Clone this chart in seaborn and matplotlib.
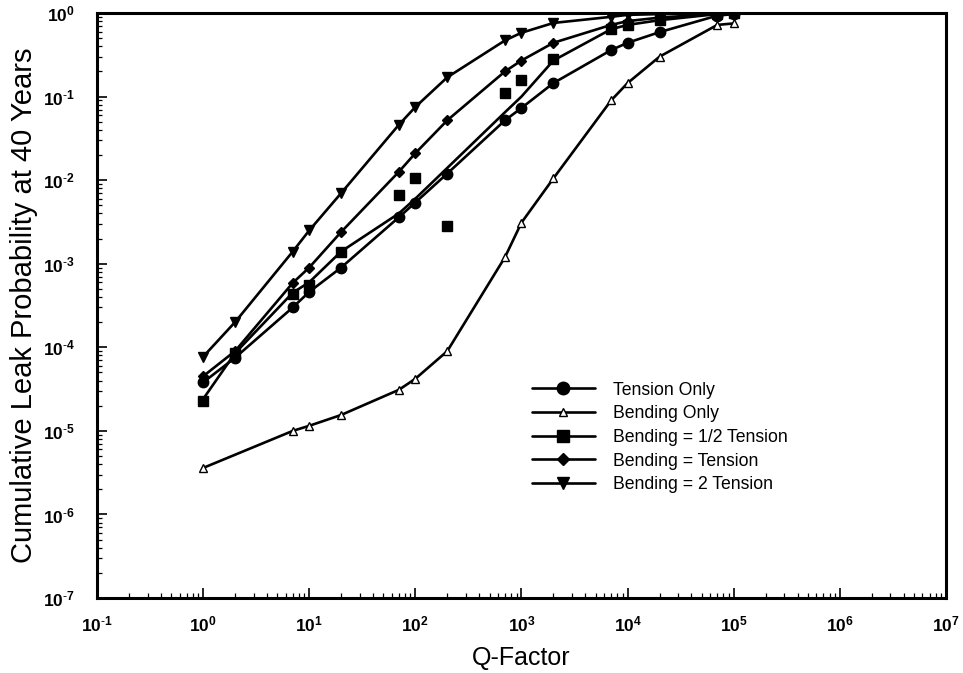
import matplotlib
matplotlib.use("Agg")
import matplotlib.pyplot as plt
from matplotlib.lines import Line2D
import seaborn as sns
import pandas as pd

q_factor = [1, 2, 7, 10, 20, 70, 100, 200, 700, 1000, 2000, 7000, 10000, 20000, 70000, 100000]

tension_only = [3.8e-5, 7.5e-5, 3.0e-4, 4.6e-4, 9.0e-4, 3.6e-3, 5.4e-3, 0.012, 0.052, 0.073,
                0.145, 0.36, 0.44, 0.59, 0.93, 0.97]

bending_only_q = [1, 7, 10, 20, 70, 100, 200, 700, 1000, 2000, 7000, 10000, 20000, 70000, 100000]
bending_only = [3.6e-6, 1.0e-5, 1.15e-5, 1.55e-5, 3.1e-5, 4.2e-5, 9.0e-5, 1.2e-3, 3.1e-3, 0.0105,
                0.09, 0.145, 0.30, 0.72, 0.75]

half_tension_pts = [2.3e-5, 8.5e-5, 4.3e-4, 5.5e-4, 1.4e-3, 6.6e-3, 0.0107, 2.8e-3, 0.11, 0.16,
                    0.28, 0.64, 0.72, 0.82, 0.97, 1.0]
half_tension_fit = [2.4e-5, 8.5e-5, 4.5e-4, 6.0e-4, 1.4e-3, 4.0e-3, 6.0e-3, 0.014, 0.065, 0.10,
                    0.27, 0.64, 0.72, 0.82, 0.97, 1.0]

equal_tension = [4.5e-5, 9.0e-5, 5.9e-4, 9.0e-4, 2.4e-3, 0.0126, 0.021, 0.052, 0.20, 0.27,
                 0.44, 0.72, 0.80, 0.88, 0.98, 1.0]

double_tension = [7.7e-5, 2.0e-4, 1.4e-3, 2.5e-3, 7.0e-3, 0.046, 0.075, 0.17, 0.47, 0.58,
                  0.76, 0.90, 0.95, 0.97, 1.0, 1.0]

labels = ["Tension Only", "Bending Only", "Bending = 1/2 Tension",
          "Bending = Tension", "Bending = 2 Tension"]

x_exponents = list(range(-1, 8))
y_exponents = list(range(-7, 1))

sns.set_theme(style="ticks")
plt.rcParams["font.family"] = ["Liberation Sans", "DejaVu Sans"]
plt.rcParams["mathtext.fontset"] = "custom"
plt.rcParams["mathtext.rm"] = "Liberation Sans"
plt.rcParams["mathtext.it"] = "Liberation Sans"
plt.rcParams["mathtext.bf"] = "Liberation Sans:bold"
plt.rcParams["axes.unicode_minus"] = False
for key in ["text.color", "axes.labelcolor", "xtick.color", "ytick.color", "axes.edgecolor"]:
    plt.rcParams[key] = "black"

fig = plt.figure(figsize=(9.63, 6.73), dpi=100)
ax = fig.add_axes([0.1007, 0.1114, 0.8816, 0.8693])

lw = 1.9
k = "black"

def draw(xs, ys, marker, ms, mfc=k, line_ys=None):
    df = pd.DataFrame({"x": xs, "y": ys if line_ys is None else line_ys})
    sns.lineplot(data=df, x="x", y="y", ax=ax, color=k, linewidth=lw, estimator=None,
                 sort=False, legend=False)
    dm = pd.DataFrame({"x": xs, "y": ys})
    ax.plot(dm["x"], dm["y"], linestyle="none", marker=marker, markersize=ms,
            markerfacecolor=mfc, markeredgecolor=k, markeredgewidth=1.0, zorder=3)

draw(q_factor, tension_only, "o", 7.5)
draw(bending_only_q, bending_only, "^", 5.5, mfc="white")
draw(q_factor, half_tension_pts, "s", 7.5, line_ys=half_tension_fit)
draw(q_factor, equal_tension, "D", 5)
draw(q_factor, double_tension, "v", 6.5)

ax.set_xscale("log")
ax.set_yscale("log")
ax.set_xlim(1e-1, 1e7)
ax.set_ylim(1e-7, 1e0)

def lab(e):
    if e < 0:
        return r"$\mathbf{10^{\text{-}%d}}$" % (-e)
    return r"$\mathbf{10^{%d}}$" % e

ax.set_xticks([10.0**e for e in x_exponents])
ax.set_yticks([10.0**e for e in y_exponents])
ax.set_xticklabels([lab(e) for e in x_exponents])
ax.set_yticklabels([lab(e) for e in y_exponents])
ax.tick_params(axis="both", which="major", direction="in", length=7, width=1.2,
               labelsize=12.5, top=False, right=False)
ax.tick_params(axis="x", which="major", pad=12)
ax.tick_params(axis="y", which="major", pad=16)
ax.tick_params(axis="both", which="minor", direction="in", length=3.5, width=0.9,
               top=False, right=False)

for s in ax.spines.values():
    s.set_linewidth(2.2)
    s.set_color(k)

ax.set_xlabel("Q-Factor", fontsize=18, labelpad=8)
ax.set_ylabel("Cumulative Leak Probability at 40 Years", fontsize=21, labelpad=3)

handles = [
    Line2D([], [], color=k, lw=lw, marker="o", ms=9, mfc=k, mec=k),
    Line2D([], [], color=k, lw=lw, marker="^", ms=5.5, mfc="white", mec=k),
    Line2D([], [], color=k, lw=lw, marker="s", ms=9, mfc=k, mec=k),
    Line2D([], [], color=k, lw=lw, marker="D", ms=6, mfc=k, mec=k),
    Line2D([], [], color=k, lw=lw, marker="v", ms=8, mfc=k, mec=k),
]
ax.legend(handles, labels, loc="upper left", bbox_to_anchor=(0.512, 0.37), frameon=False,
          fontsize=12.7, handlelength=3.6, handletextpad=1.0, labelspacing=0.38,
          borderaxespad=0, borderpad=0)

fig.savefig("out.png", dpi=100)
